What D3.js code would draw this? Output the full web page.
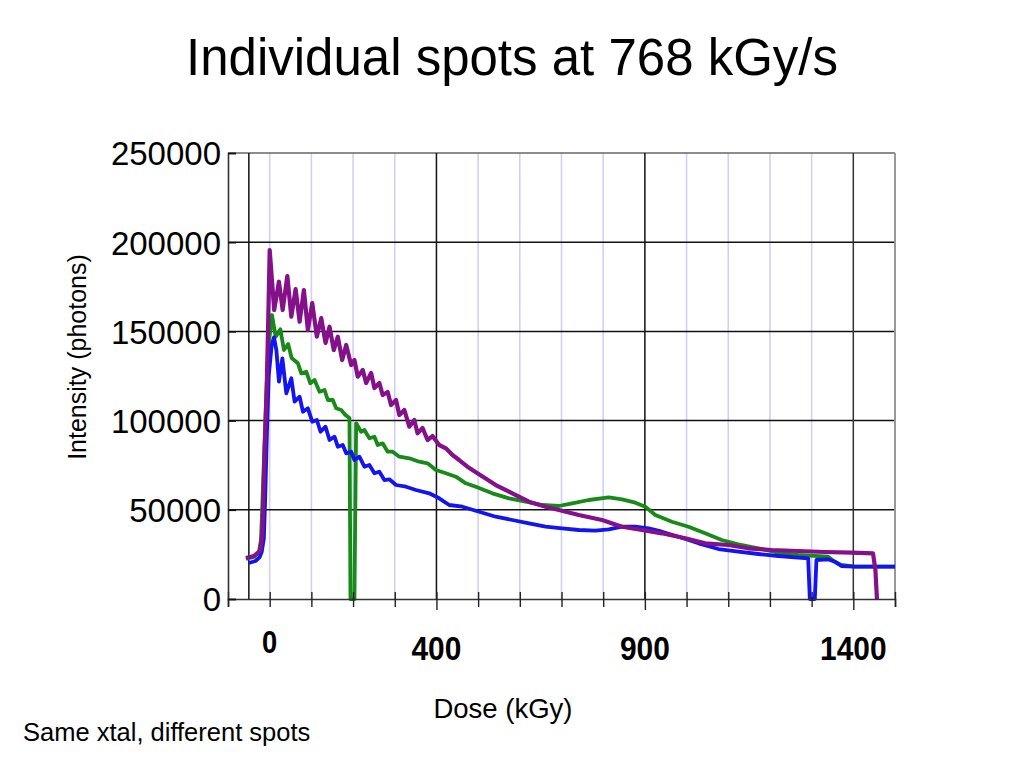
<!DOCTYPE html>
<html>
<head>
<meta charset="utf-8">
<script src="https://cdn.jsdelivr.net/npm/d3@7"></script>
<style>
  html, body { margin: 0; padding: 0; background: #fff; }
  text { font-family: "Liberation Sans", Arial, sans-serif; }
</style>
</head>
<body>
<svg id="chart" width="1024" height="768"></svg>
<script>
// ---- Data (dose kGy, intensity photons) ----
const purpleSpot = [
  [-57,23000],[-38,24100],[-23,27000],[-18,36000],[-16,50000],[-12,83500],[-7,120000],[-3.6,155000],
  [0,195600],[10.8,161980],[22.2,177850],[31.1,161980],[42.3,181040],[51.9,158230],[62.2,173755],
  [71.8,155430],[82,173190],[91.6,150775],[102.1,165910],[113.1,147020],[123.7,157500],[134,143490],
  [143.5,152620],[153.8,139560],[163.4,147020],[173.9,133960],[183.5,142370],[195.4,131160],
  [203.3,133960],[211.2,124600],[223.2,128350],[231.3,121070],[243.3,126670],[251.2,118265],
  [263.1,121070],[271,114340],[283,116020],[291.1,108740],[303.1,111540],[311,103130],[323,105935],
  [334.9,96570],[346.8,100330],[354.7,92870],[366.7,95845],[378.7,89120],[390.6,91360],[406.6,86320],
  [422.7,84470],[438.5,80710],[454.5,77910],[474.3,74150],[498.3,70450],[542.3,63900],[582,59240],
  [622,54540],[661.9,51730],[693.7,49885],[741.5,47080],[797.3,44280],[845.1,40520],[893,38670],
  [940.8,36820],[996.8,34020],[1044.6,31220],[1100.3,30270],[1148.2,28420],[1203.9,27465],
  [1267.8,26900],[1331.7,26340],[1395.3,25950],[1447.2,25615],[1453,16250],[1456.7,0]
];
const greenSpot = [
  [-57,22420],[-38,23540],[-26,26000],[-21,33000],[-18,50000],[-13,83500],[-8,115000],[-3.6,140000],
  [5.5,159180],[14.4,147020],[25.6,151170],[34.2,139560],[44.3,142930],[52.6,135080],[67.7,132110],
  [75.8,126500],[87.8,127400],[97.4,120900],[107.6,122750],[119.6,116190],[131.6,117145],[139.5,111540],
  [151.4,111540],[159.5,106890],[171.5,105935],[181.8,103130],[191.4,101450],[193.8,0],[203.3,0],
  [207.4,98480],[219.3,93770],[227.2,94720],[239.2,90070],[251.2,90970],[259.1,86320],[271,87270],
  [283,82560],[294.9,82560],[311,79760],[334.9,78860],[358.8,76960],[378.7,76060],[398.7,72300],
  [422.7,70450],[446.6,68550],[470.5,64850],[494.4,62940],[534.1,59240],[574.1,56440],[614,54540],
  [653.7,52690],[693.7,52130],[725.5,53640],[765.4,55490],[813.3,57000],[845.1,55880],[877.1,53980],
  [901.1,51730],[925,47080],[964.7,43330],[1004.6,40520],[1044.6,36820],[1084.3,33070],[1124.2,30660],
  [1172,28420],[1219.9,25950],[1267.8,24660],[1339.5,23710],[1355.6,20910],[1371.3,19060],
  [1403.4,18100],[1500,18100]
];
const blueSpot = [
  [-50,20200],[-34,21300],[-24,23500],[-19,26500],[-14,34000],[-11,55000],[-7,90000],[-2.4,125000],
  [4.8,142370],[10.3,146680],[16,139560],[22.2,121800],[30.4,134910],[39.9,115290],[51.9,123700],
  [59.8,110590],[71.8,113390],[79.7,104980],[91.6,106890],[102.1,99380],[113.1,100330],[122,93770],
  [134,96570],[143.5,89120],[155.5,90970],[163.4,85360],[175.3,86320],[183.5,81660],[195.4,82560],
  [203.3,77910],[215.3,79760],[227.2,74150],[239.2,75110],[251.2,70450],[263.1,71350],[275.1,66700],
  [287,67090],[303.1,63900],[327,62940],[350.9,61090],[382.7,59240],[406.6,56440],[430.6,52690],
  [462.4,51730],[502.3,48930],[542.3,46130],[582,44280],[622,42430],[661.9,40520],[701.6,39630],
  [741.5,38670],[781.5,38280],[813.3,39070],[845.1,40520],[877.1,40520],[909,39630],[940.8,37720],
  [980.7,34920],[1028.6,31220],[1076.4,28000],[1124.2,26510],[1172,25220],[1219.9,24100],
  [1267.8,23150],[1291.7,22810],[1295.7,0],[1307.7,0],[1311.5,21860],[1339.5,22250],[1355.6,20910],
  [1371.3,18500],[1403.4,18100],[1500,18100]
];

const yTicks = [0, 50000, 100000, 150000, 200000, 250000];
const xTicks = d3.range(-100, 1501, 100);
const majorGrid = [-50, 400, 900, 1400];
const minorGrid = [0, 100, 200, 300, 500, 600, 700, 800, 1000, 1100, 1200, 1300];
const xLabels = [0, 400, 900, 1400];

const title = "Individual spots at 768 kGy/s";
const xTitle = "Dose (kGy)";
const yTitle = "Intensity (photons)";
const note = "Same xtal, different spots";

// ---- Layout ----
const svg = d3.select("#chart");
const L = 228, R = 895, T = 153, B = 599;
const x = d3.scaleLinear().domain([-100, 1500]).range([L, R]);
const y = d3.scaleLinear().domain([0, 250000]).range([B, T]);

// minor grid
svg.append("g").selectAll("line").data(minorGrid).join("line")
  .attr("x1", d => x(d)).attr("x2", d => x(d)).attr("y1", T).attr("y2", B)
  .attr("stroke", "#d2d0f2").attr("stroke-width", 1.6);

// horizontal grid
svg.append("g").selectAll("line").data(yTicks.slice(1)).join("line")
  .attr("x1", L).attr("x2", R).attr("y1", d => y(d)).attr("y2", d => y(d))
  .attr("stroke", d => d === 250000 ? "#666" : "#111").attr("stroke-width", 1.5);

// major vertical grid
svg.append("g").selectAll("line").data(majorGrid).join("line")
  .attr("x1", d => x(d)).attr("x2", d => x(d)).attr("y1", T).attr("y2", B)
  .attr("stroke", d => d === 1400 ? "#333" : "#111").attr("stroke-width", 1.5);

// right border
svg.append("line").attr("x1", R).attr("x2", R).attr("y1", T).attr("y2", B)
  .attr("stroke", "#999").attr("stroke-width", 2);

// series
const line = d3.line().x(d => x(d[0])).y(d => y(d[1]));
const series = [
  { data: greenSpot, color: "#178a17", w: 3.8 },
  { data: blueSpot, color: "#1414f0", w: 3.8 },
  { data: purpleSpot, color: "#84108a", w: 4.2 }
];
svg.append("g").selectAll("path").data(series).join("path")
  .attr("d", d => line(d.data))
  .attr("fill", "none").attr("stroke", d => d.color).attr("stroke-width", d => d.w)
  .attr("stroke-linejoin", "round");

// x axis
const gx = svg.append("g").attr("transform", `translate(0,${B})`)
  .call(d3.axisBottom(x).tickValues(xTicks).tickSize(8).tickFormat(""));
gx.select(".domain").attr("stroke", "#333").attr("stroke-width", 1.6);
gx.selectAll(".tick line").attr("y1", -7).attr("stroke", "#222").attr("stroke-width", 1.4)
  .attr("y2", d => majorGrid.includes(d) ? 11 : 8);

// y axis
const gy = svg.append("g").attr("transform", `translate(${L},0)`)
  .call(d3.axisLeft(y).tickValues(yTicks).tickSize(-8).tickPadding(7).tickFormat(d3.format("d")));
gy.select(".domain").attr("stroke", "#333").attr("stroke-width", 1.6);
gy.selectAll(".tick line").attr("stroke", "#111").attr("stroke-width", 1.6);
gy.selectAll(".tick text").attr("font-size", 33).attr("fill", "#000")
  .attr("font-family", "Liberation Sans, Arial, sans-serif").attr("dy", "0.36em");

// x labels (bold, narrow)
svg.append("g").selectAll("text").data(xLabels).join("text")
  .attr("transform", d => `translate(${x(d)},${d === 0 ? 653 : 660}) scale(0.88,1)`)
  .attr("text-anchor", "middle").attr("font-size", d => d === 0 ? 31 : 34).attr("font-weight", "bold")
  .text(d => d);

// titles
svg.append("text").attr("x", 512).attr("y", 75).attr("text-anchor", "middle")
  .attr("font-size", 51).text(title);
svg.append("text").attr("transform", "translate(86,357) rotate(-90)")
  .attr("text-anchor", "middle").attr("font-size", 25).text(yTitle);
svg.append("text").attr("x", 503).attr("y", 718).attr("text-anchor", "middle")
  .attr("font-size", 27.5).text(xTitle);
svg.append("text").attr("x", 23).attr("y", 741).attr("font-size", 25.5).text(note);
</script>
</body>
</html>
